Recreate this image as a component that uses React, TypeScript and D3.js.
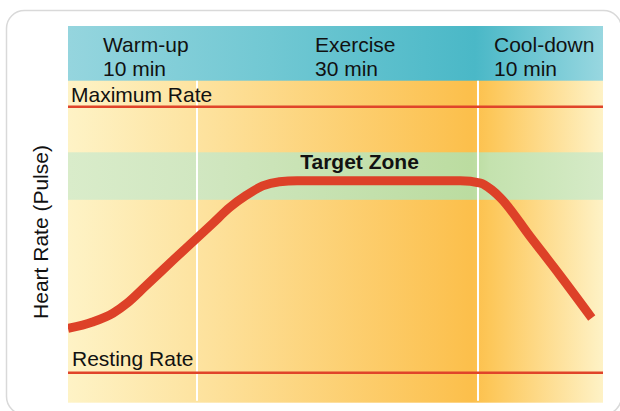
import React from "react";
import * as d3 from "d3";

// ---- data ----
const phases = ["Warm-up", "Exercise", "Cool-down"];
const phaseDurations = ["10 min", "30 min", "10 min"];
const phaseBounds = [0, 10, 40, 50]; // minutes
const restingRate = 60;
const maximumRate = 200;
const targetZone = [151, 176];
// heart rate curve (minutes, bpm)
const curveMinutes = [0, 1.9, 3.5, 4.6, 6.0, 8.3, 10, 11.7, 13.5, 15.3, 17.0, 18.8, 20.7, 38.1, 40.2, 41.1, 41.8, 44.2, 46.6, 49.1];
const curveBpm = [83.3, 86.7, 91.4, 96.7, 105.5, 120.2, 130.9, 138.7, 147.0, 153.5, 158.3, 160.5, 161, 161, 159.8, 156.2, 152, 131.4, 110.9, 88.8];

const W = 620;
const H = 411;
const left = 68;
const right = 603;
const top = 26;
const headerBottom = 80.7;
const bottom = 402.7;
const FONT = "'Liberation Sans', Arial, Helvetica, sans-serif";

export default function App() {
  const x = d3
    .scaleLinear()
    .domain(phaseBounds)
    .range([left, 197, 478, right]);
  const y = d3.scaleLinear().domain([restingRate, maximumRate]).range([372.7, 106.7]);

  const pts: [number, number][] = curveMinutes.map((m, i) => [m, curveBpm[i]]);
  const line = d3
    .line<[number, number]>()
    .x((d) => x(d[0]))
    .y((d) => y(d[1]))
    .curve(d3.curveMonotoneX);

  const frac = (px: number) => `${((px - left) / (right - left)) * 100}%`;
  const textX = [103, 315, 494];

  return (
    <svg
      width={W}
      height={H}
      style={{ position: "absolute", left: 0, top: 0, background: "#fff" }}
      fontFamily={FONT}
    >
      <defs>
        <linearGradient id="bodyG" x1="0" x2="1" y1="0" y2="0">
          <stop offset="0%" stopColor="#fef3c6" />
          <stop offset={frac(197)} stopColor="#fde3a0" />
          <stop offset={frac(472)} stopColor="#fcbf4b" />
          <stop offset={frac(490)} stopColor="#fdc759" />
          <stop offset="100%" stopColor="#fef2c6" />
        </linearGradient>
        <linearGradient id="headG" x1="0" x2="1" y1="0" y2="0">
          <stop offset="0%" stopColor="#95d5de" />
          <stop offset={frac(270)} stopColor="#71c8d3" />
          <stop offset={frac(475)} stopColor="#4ab8c7" />
          <stop offset="100%" stopColor="#98d7e0" />
        </linearGradient>
        <linearGradient id="zoneG" x1="0" x2="1" y1="0" y2="0">
          <stop offset="0%" stopColor="#d9ecca" />
          <stop offset={frac(197)} stopColor="#d1e7c1" />
          <stop offset={frac(472)} stopColor="#bbdca0" />
          <stop offset={frac(490)} stopColor="#c4e2ae" />
          <stop offset="100%" stopColor="#d6ebc8" />
        </linearGradient>
        <clipPath id="plotClip">
          <rect x={left} y={top} width={right - left} height={bottom - top} />
        </clipPath>
      </defs>

      <rect x={6.5} y={10.5} width={615} height={404} rx={18} fill="#fff" stroke="#d9d9d9" strokeWidth={1.5} />

      <rect x={left} y={top} width={right - left} height={bottom - top} fill="url(#bodyG)" />
      <rect
        x={left}
        y={y(targetZone[1])}
        width={right - left}
        height={y(targetZone[0]) - y(targetZone[1])}
        fill="url(#zoneG)"
      />
      <rect x={left} y={top} width={right - left} height={headerBottom - top} fill="url(#headG)" />

      {phaseBounds.slice(1, -1).map((b) => (
        <line key={b} x1={x(b)} x2={x(b)} y1={headerBottom} y2={bottom - 2} stroke="#fff" strokeWidth={2} />
      ))}

      <line x1={left} x2={right} y1={y(maximumRate)} y2={y(maximumRate)} stroke="#e0442a" strokeWidth={2.5} />
      <line x1={left} x2={right} y1={y(restingRate)} y2={y(restingRate)} stroke="#e0442a" strokeWidth={2.5} />

      <g clipPath="url(#plotClip)">
        <path d={line(pts) || ""} fill="none" stroke="#dd4128" strokeWidth={9} strokeLinecap="butt" strokeLinejoin="round" />
      </g>

      {phases.map((p, i) => (
        <g key={p} fontSize={21} fill="#111">
          <text x={textX[i]} y={51.7}>{p}</text>
          <text x={textX[i]} y={75.7}>{phaseDurations[i]}</text>
        </g>
      ))}

      <text x={71} y={102.3} fontSize={21} fill="#111">Maximum Rate</text>
      <text x={72} y={366} fontSize={21} fill="#111">Resting Rate</text>
      <text x={359.5} y={169} fontSize={21} fontWeight="bold" textAnchor="middle" fill="#111">Target Zone</text>

      <text
        transform={`translate(48,232) rotate(-90)`}
        textAnchor="middle"
        fontSize={21}
        fill="#111"
      >
        Heart Rate (Pulse)
      </text>
    </svg>
  );
}
